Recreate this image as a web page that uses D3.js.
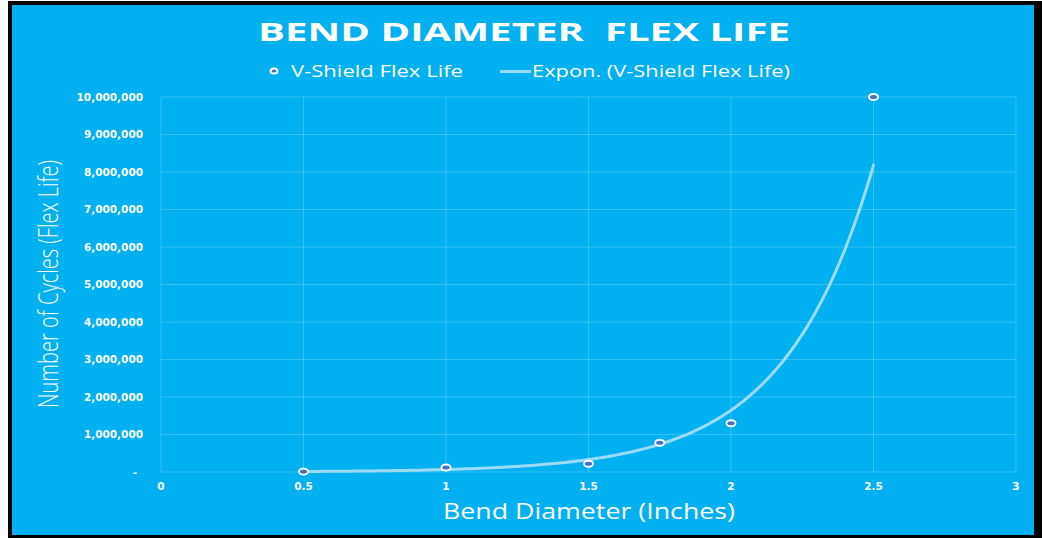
<!DOCTYPE html>
<html>
<head>
<meta charset="utf-8">
<script src="https://cdn.jsdelivr.net/npm/d3@7/dist/d3.min.js"></script>
<style>
  html, body { margin: 0; padding: 0; background: #fff; }
  svg { display: block; }
  text { white-space: pre; }
</style>
</head>
<body>
<svg id="chart" width="1042" height="538"></svg>
<script>
// data
const bendDiameters = [0.5, 1, 1.5, 1.75, 2, 2.5];
const flexCycles = [11000, 120000, 220000, 780000, 1300000, 10000000];
const xTicks = [0, 0.5, 1, 1.5, 2, 2.5, 3];
const yTicks = [0, 1000000, 2000000, 3000000, 4000000, 5000000, 6000000, 7000000, 8000000, 9000000, 10000000];
const titleText = "BEND DIAMETER  FLEX LIFE";
const seriesName = "V-Shield Flex Life";
const trendName = "Expon. (V-Shield Flex Life)";

const svg = d3.select("#chart");
const blue = "#00B0F0";
const gridColor = "rgba(255,255,255,0.22)";
const trendColor = "#9EDCF6";
const markerFill = "#4472C4";

// frame
svg.append("rect").attr("x", 8).attr("y", 1).attr("width", 1034).attr("height", 537).attr("fill", "#000");
svg.append("rect").attr("x", 12).attr("y", 5).attr("width", 1022).attr("height", 530).attr("fill", blue);

const x = d3.scaleLinear().domain([0, 3]).range([161, 1016]);
const y = d3.scaleLinear().domain([0, 10000000]).range([472, 97]);

// grid
const grid = svg.append("g");
grid.selectAll(".vg").data(xTicks).enter().append("line")
  .attr("x1", d => x(d)).attr("x2", d => x(d))
  .attr("y1", y(0)).attr("y2", y(10000000))
  .attr("stroke", gridColor).attr("stroke-width", 1);
grid.selectAll(".hg").data(yTicks).enter().append("line")
  .attr("x1", x(0)).attr("x2", x(3))
  .attr("y1", d => y(d)).attr("y2", d => y(d))
  .attr("stroke", gridColor).attr("stroke-width", 1);

// tick labels
const fmt = d3.format(",");
svg.append("g").selectAll("text").data(yTicks).enter().append("text")
  .attr("x", d => d === 0 ? 137 : 143)
  .attr("y", d => y(d) + 3.5)
  .attr("text-anchor", "end")
  .attr("font-family", "DejaVu Sans")
  .attr("font-weight", "bold")
  .attr("font-size", 10.5)
  .attr("fill", "#fff")
  .text(d => d === 0 ? "-" : fmt(d));

svg.append("g").selectAll("text").data(xTicks).enter().append("text")
  .attr("x", d => x(d))
  .attr("y", 490)
  .attr("text-anchor", "middle")
  .attr("font-family", "DejaVu Sans")
  .attr("font-weight", "bold")
  .attr("font-size", 10.5)
  .attr("fill", "#fff")
  .text(d => d);

// exponential trendline, least squares on ln(y) like Excel
const lnY = flexCycles.map(v => Math.log(v));
const mx = d3.mean(bendDiameters), my = d3.mean(lnY);
let sxy = 0, sxx = 0;
bendDiameters.forEach((v, i) => { sxy += (v - mx) * (lnY[i] - my); sxx += (v - mx) * (v - mx); });
const b = sxy / sxx;
const a = Math.exp(my - b * mx);
const trendPts = d3.range(0, 201).map(i => {
  const xv = 0.5 + i * 0.01;
  return [xv, a * Math.exp(b * xv)];
});
svg.append("path")
  .datum(trendPts)
  .attr("d", d3.line().x(d => x(d[0])).y(d => y(d[1])).curve(d3.curveMonotoneX))
  .attr("fill", "none")
  .attr("stroke", trendColor)
  .attr("stroke-width", 3)
  .attr("stroke-linecap", "round");

// points
svg.append("g").selectAll("ellipse").data(bendDiameters).enter().append("ellipse")
  .attr("cx", d => x(d))
  .attr("cy", (d, i) => y(flexCycles[i]))
  .attr("rx", 4.6).attr("ry", 3)
  .attr("fill", markerFill)
  .attr("stroke", "#fff")
  .attr("stroke-width", 1.8);

// title
svg.append("text")
  .attr("x", 524).attr("y", 41)
  .attr("text-anchor", "middle")
  .attr("font-family", "Open Sans")
  .attr("font-weight", "bold")
  .attr("font-size", 25)
  .attr("textLength", 532)
  .attr("lengthAdjust", "spacingAndGlyphs")
  .attr("fill", "#fff")
  .text(titleText);

// legend
svg.append("ellipse").attr("cx", 274).attr("cy", 71).attr("rx", 3.5).attr("ry", 2.5)
  .attr("fill", markerFill).attr("stroke", "#fff").attr("stroke-width", 2);
svg.append("text")
  .attr("x", 291).attr("y", 77)
  .attr("font-family", "Open Sans")
  .attr("font-size", 17)
  .attr("textLength", 172)
  .attr("lengthAdjust", "spacingAndGlyphs")
  .attr("fill", "#fff")
  .text(seriesName);
svg.append("line").attr("x1", 500).attr("x2", 531).attr("y1", 71.5).attr("y2", 71.5)
  .attr("stroke", trendColor).attr("stroke-width", 3);
svg.append("text")
  .attr("x", 532).attr("y", 77)
  .attr("font-family", "Open Sans")
  .attr("font-size", 17)
  .attr("textLength", 258)
  .attr("lengthAdjust", "spacingAndGlyphs")
  .attr("fill", "#fff")
  .text(trendName);

// axis titles
svg.append("text")
  .attr("x", 589).attr("y", 519)
  .attr("text-anchor", "middle")
  .attr("font-family", "Open Sans")
  .attr("font-size", 21)
  .attr("textLength", 292)
  .attr("lengthAdjust", "spacingAndGlyphs")
  .attr("fill", "#fff")
  .text("Bend Diameter (Inches)");

svg.append("text")
  .attr("transform", "translate(58,284) rotate(-90)")
  .attr("text-anchor", "middle")
  .attr("font-family", "Open Sans")
  .attr("font-weight", 300)
  .attr("font-size", 28)
  .attr("textLength", 248)
  .attr("lengthAdjust", "spacingAndGlyphs")
  .attr("fill", "#fff")
  .text("Number of Cycles (Flex Life)");
</script>
</body>
</html>
